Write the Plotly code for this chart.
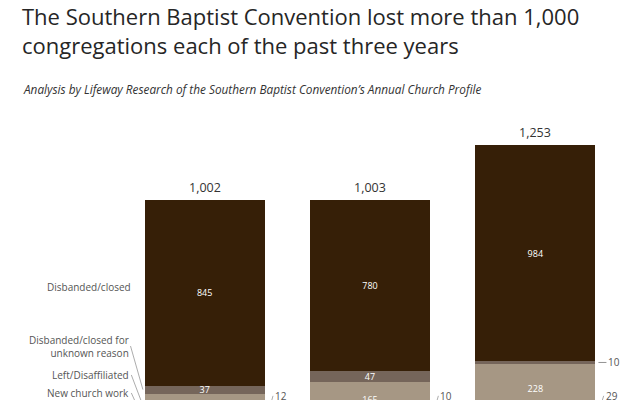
import plotly.graph_objects as go

years = ["2021", "2022", "2023"]
totals = [1002, 1003, 1253]
new_church_work = [12, 10, 29]
left_disaffiliated = [108, 165, 228]
unknown_reason = [37, 47, 10]
disbanded_closed = [845, 780, 984]

series = [
    ("New church work", new_church_work, "#a69784"),
    ("Left/Disaffiliated", left_disaffiliated, "#a69784"),
    ("Disbanded/closed for unknown reason", unknown_reason, "#75655a"),
    ("Disbanded/closed", disbanded_closed, "#361f07"),
]

FONT = "Open Sans"
xs = list(range(len(years)))
BARGAP = 0.273
HALF = (1 - BARGAP) / 2

fig = go.Figure()
for name, vals, color in series:
    fig.add_trace(go.Bar(
        x=xs, y=vals, name=name, marker_color=color, marker_line_width=0,
        text=[str(v) if v >= 30 else "" for v in vals],
        textposition="inside", insidetextanchor="middle", textangle=0,
        textfont=dict(color="white", size=9, family=FONT),
        hoverinfo="skip",
    ))

ann = []
# totals
for i, t in enumerate(totals):
    top = new_church_work[i] + left_disaffiliated[i] + unknown_reason[i] + disbanded_closed[i]
    ann.append(dict(x=i, y=top, text=f"{t:,}", showarrow=False, yanchor="bottom", yshift=2,
                    font=dict(size=12.5, color="#333", family=FONT)))

lab_font = dict(size=10, color="#555", family=FONT)
# left labels (first bar)
ncw0 = new_church_work[0]
ld0 = left_disaffiliated[0]
ur0 = unknown_reason[0]
dc0 = disbanded_closed[0]
ann.append(dict(x=-HALF - 0.07, y=ncw0 + ld0 + ur0 + dc0 / 2, text="Disbanded/closed",
                showarrow=False, xanchor="right", yshift=6, font=lab_font))
ann.append(dict(x=-HALF - 0.01, y=ncw0 + ld0 + ur0 / 2, ax=-HALF - 0.085, ay=337,
                axref="x", ayref="y", text="Disbanded/closed for<br>unknown reason",
                showarrow=True, arrowhead=0, arrowwidth=0.7, arrowcolor="#888",
                xanchor="right", yanchor="middle", align="right", font=lab_font))
ann.append(dict(x=-HALF - 0.01, y=ncw0 + ld0 / 2, ax=-HALF - 0.08, ay=205,
                axref="x", ayref="y", text="Left/Disaffiliated",
                showarrow=True, arrowhead=0, arrowwidth=0.7, arrowcolor="#888",
                xanchor="right", yanchor="middle", font=lab_font))
ann.append(dict(x=-HALF - 0.01, y=ncw0 / 2, ax=-HALF - 0.08, ay=123,
                axref="x", ayref="y", text="New church work",
                showarrow=True, arrowhead=0, arrowwidth=0.7, arrowcolor="#888",
                xanchor="right", yanchor="middle", font=lab_font))

small_font = dict(size=10, color="#555", family=FONT)
# right small labels
for i in xs:
    if unknown_reason[i] < 30:
        ann.append(dict(x=i + HALF, y=new_church_work[i] + left_disaffiliated[i] + unknown_reason[i] / 2,
                        ax=11, ay=0, text=str(unknown_reason[i]), showarrow=True, arrowhead=0,
                        arrowwidth=0.8, arrowcolor="#777", standoff=3, xanchor="left",
                        font=small_font))
    ann.append(dict(x=i + HALF + 0.01, y=new_church_work[i] / 2, ax=i + HALF + 0.05, ay=110,
                    axref="x", ayref="y", text=str(new_church_work[i]), showarrow=True,
                    arrowhead=0, arrowwidth=0.7, arrowcolor="#888", xanchor="left",
                    yanchor="middle", font=small_font))

ann.append(dict(xref="paper", yref="paper", x=-0.2056, y=1.318, xanchor="left", yanchor="middle",
                text="The Southern Baptist Convention lost more than 1,000<br>congregations each of the past three years",
                align="left", showarrow=False, font=dict(size=22, color="#262626", family=FONT)))
ann.append(dict(xref="paper", yref="paper", x=-0.2036, y=1.1107, xanchor="left", yanchor="middle",
                text="<i>Analysis by Lifeway Research of the Southern Baptist Convention’s Annual Church Profile</i>",
                showarrow=False, font=dict(size=11.8, color="#333", family=FONT)))

fig.update_layout(
    width=632, height=392,
    margin=dict(l=114, r=22, t=112, b=0),
    barmode="stack", bargap=BARGAP,
    showlegend=False,
    plot_bgcolor="white", paper_bgcolor="white",
    uniformtext=dict(minsize=9, mode="show"),
    xaxis=dict(range=[-0.5, 2.5], visible=False),
    yaxis=dict(range=[91, 1367], visible=False),
    annotations=ann,
)

fig.write_html("out.html")
